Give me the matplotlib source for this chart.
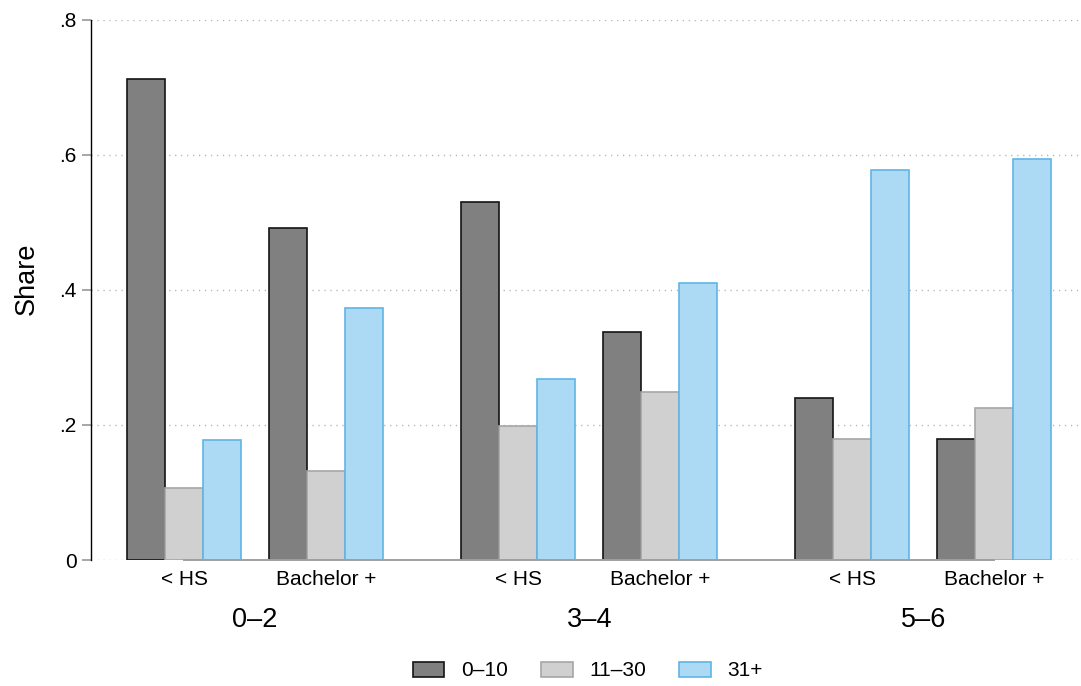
import matplotlib
matplotlib.use("Agg")
import matplotlib.pyplot as plt
import matplotlib.transforms as mtransforms
from matplotlib.patches import Patch
import numpy as np

plt.rcParams["font.family"] = ["Liberation Sans", "DejaVu Sans"]

# data
groups = ["0–2", "3–4", "5–6"]
educ = ["< HS", "Bachelor +"]
series = ["0–10", "11–30", "31+"]
share_0_10 = [0.712, 0.492, 0.530, 0.338, 0.240, 0.179]
share_11_30 = [0.107, 0.132, 0.198, 0.249, 0.179, 0.225]
share_31p = [0.178, 0.373, 0.268, 0.410, 0.577, 0.594]
yticks = [0, 0.2, 0.4, 0.6, 0.8]
ytick_labels = ["0", ".2", ".4", ".6", ".8"]

fills = ["#808080", "#d0d0d0", "#acd9f3"]
edges = ["#141414", "#a6a6a6", "#5fb5e6"]

# layout in bar-width units
bw = 1.0
sub_step = 3.74
group_step = 8.79
first = 2.45

centers = []
for g in range(len(groups)):
    for s in range(len(educ)):
        centers.append(first + g * group_step + s * sub_step)
centers = np.array(centers)

fig = plt.figure(figsize=(10.81, 6.86), dpi=100)
ax = fig.add_axes([91 / 1081, 1 - 560 / 686, 989 / 1081, 540.3 / 686])

for i, vals in enumerate([share_0_10, share_11_30, share_31p]):
    ax.bar(centers + (i - 1) * bw, vals, width=bw, color=fills[i],
           edgecolor=edges[i], linewidth=1.2, zorder=3)

ax.set_xlim(0, 989 / 38)
ax.set_ylim(0, 0.8)

# dotted grid
for y in yticks:
    ax.axhline(y, color="#b4b4b4", lw=1.0, ls=(0, (0.9, 3.4)), zorder=1)

ax.set_yticks(yticks)
ax.set_yticklabels(ytick_labels)
ax.tick_params(axis="y", length=6.5, width=1.3, color="#a0a0a0",
               labelsize=15, pad=4)
ax.set_xticks(centers)
ax.set_xticklabels(educ * len(groups))
ax.tick_params(axis="x", length=0, labelsize=15, pad=7)

for side in ["top", "right", "bottom"]:
    ax.spines[side].set_visible(False)
ax.spines["left"].set_linewidth(1.0)
ax.spines["left"].set_color("black")

# category axis line from first to last label
ax.plot([centers[0], centers[-1]], [0, 0], color="#a0a0a0", lw=1.4,
        zorder=4, clip_on=False)

ax.set_ylabel("Share", fontsize=19.5)
ax.yaxis.set_label_coords(-0.052, 0.52)

trans = mtransforms.blended_transform_factory(ax.transData, fig.transFigure)
for g, name in enumerate(groups):
    xc = centers[2 * g:2 * g + 2].mean()
    fig.text(xc, 1 - 627 / 686, name, transform=trans, ha="center",
             va="baseline", fontsize=19.5)

handles = [Patch(facecolor=fills[i], edgecolor=edges[i], linewidth=1.2)
           for i in range(3)]
fig.legend(handles, series, loc="center", bbox_to_anchor=(588 / 1081, 1 - 671 / 686),
           ncol=3, frameon=False, fontsize=15, handlelength=1.5,
           handleheight=0.75, handletextpad=0.8, columnspacing=1.6)

fig.savefig("out.png", dpi=100)
